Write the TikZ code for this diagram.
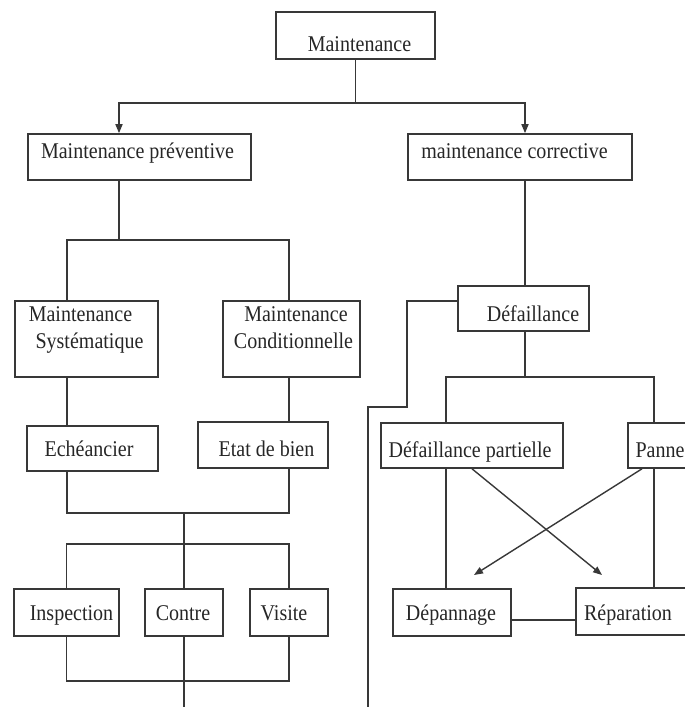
\documentclass[tikz,border=0pt]{standalone}
\usepackage{fontspec}
\setmainfont[FakeStretch=0.89]{Liberation Serif}
\usetikzlibrary{arrows.meta}
\begin{document}
\begin{tikzpicture}[x=1pt,y=-1pt,
  wire/.style={draw=black!78, line width=1.6pt},
  tip/.style={-{Triangle[length=9pt,width=7pt]}},
  box/.style={draw=black!78, line width=1.6pt, rectangle, inner sep=0pt},
  txt/.style={font=\fontsize{22.5pt}{27pt}\selectfont, text height=16pt,
              text depth=5pt, inner sep=0pt, text=black!85}]
\useasboundingbox (0,0) rectangle (685,707);
\clip (0,0) rectangle (685,707);

% ---- boxes ----
\node[box, minimum width=159pt, minimum height=47pt,
  label={[txt,xshift=4pt,yshift=-10pt]center:Maintenance}] (maint) at (355.5,35.5) {};
\node[box, minimum width=223pt, minimum height=46pt,
  label={[txt,xshift=-2pt,yshift=4pt]center:Maintenance préventive}] (prev) at (139.5,157) {};
\node[box, minimum width=224pt, minimum height=46pt,
  label={[txt,xshift=-5.5pt,yshift=4pt]center:maintenance corrective}] (corr) at (520,157) {};

\node[box, minimum width=143pt, minimum height=76pt,
  label={[txt,xshift=-6pt,yshift=22.8pt]center:Maintenance},
  label={[txt,xshift=3pt,yshift=-3.8pt]center:Systématique}] (ms) at (86.5,339) {};
\node[box, minimum width=137pt, minimum height=76pt,
  label={[txt,xshift=4.5pt,yshift=22.8pt]center:Maintenance},
  label={[txt,xshift=2pt,yshift=-3.8pt]center:Conditionnelle}] (mc) at (291.5,339) {};

\node[box, minimum width=131pt, minimum height=45pt,
  label={[txt,xshift=-3.5pt,yshift=-2.7pt]center:Echéancier}] (ech) at (92.5,448.5) {};
\node[box, minimum width=130pt, minimum height=46pt,
  label={[txt,xshift=3.5pt,yshift=-6.2pt]center:Etat de bien}] (etat) at (263,445) {};

\node[box, minimum width=105pt, minimum height=47pt,
  label={[txt,xshift=5pt,yshift=-2pt]center:Inspection}] (insp) at (66.5,612.5) {};
\node[box, minimum width=78pt, minimum height=47pt,
  label={[txt,xshift=-1pt,yshift=-2pt]center:Contre}] (contre) at (184,612.5) {};
\node[box, minimum width=78pt, minimum height=47pt,
  label={[txt,xshift=-5pt,yshift=-2pt]center:Visite}] (visite) at (289,612.5) {};

\node[box, minimum width=131pt, minimum height=45pt,
  label={[txt,xshift=9.5pt,yshift=-7.7pt]center:Défaillance}] (def) at (523.5,308.5) {};
\node[box, minimum width=182pt, minimum height=45pt,
  label={[txt,xshift=-2pt,yshift=-6.3pt]center:Défaillance partielle}] (dp) at (472,445.5) {};
\node[box, minimum width=72pt, minimum height=45pt,
  label={[txt,xshift=-4pt,yshift=-6.3pt]center:Panne}] (panne) at (664,445.5) {};
\node[box, minimum width=118pt, minimum height=47pt,
  label={[txt,xshift=-1pt,yshift=-2pt]center:Dépannage}] (dep) at (452,612.5) {};
\node[box, minimum width=124pt, minimum height=47pt,
  label={[txt,xshift=-10pt,yshift=-3pt]center:Réparation}] (rep) at (638,611.5) {};

% ---- column positions ----
\coordinate (xPv) at (119,0);
\coordinate (xC)  at (525,0);
\coordinate (cL)  at (67,0);
\coordinate (cR)  at (289,0);
\coordinate (xDP) at (446,0);
\coordinate (xPN) at (654,0);
\coordinate (xA1) at (472,0);
\coordinate (xA2) at (642,0);
\coordinate (yLink) at (0,620);

% ---- top split ----
\coordinate (busTop) at (355.5,103);
\draw[wire] (maint.south) -- (busTop);
\draw[wire,tip] (busTop) -| (prev.north -| xPv);
\draw[wire,tip] (busTop) -| (corr.north -| xC);

% ---- preventive branch ----
\coordinate (pvBus) at (119,240);
\draw[wire] (prev.south -| pvBus) -- (pvBus);
\draw[wire] (ms.north -| cL) |- (pvBus) -| (mc.north -| cR);
\draw[wire] (ms.south -| cL) -- (ech.north -| cL);
\draw[wire] (mc.south -| cR) -- (etat.north -| cR);
\coordinate (joinA) at (184,513);
\draw[wire] (ech.south -| cL) |- (joinA) -| (etat.south -| cR);
\draw[wire] (joinA) -- (contre.north);
\coordinate (splitA) at (184,544);
\draw[wire] (insp.north) |- (splitA) -| (visite.north);
\coordinate (joinB) at (184,681);
\draw[wire] (insp.south) |- (joinB) -| (visite.south);
\coordinate (outA) at (184,712);
\draw[wire] (contre.south) -- (outA);

% ---- corrective branch ----
\draw[wire] (corr.south -| xC) -- (def.north -| xC);
\coordinate (loopA) at (407,301);
\coordinate (loopB) at (368,407);
\coordinate (outB) at (368,712);
\draw[wire] (def.west |- loopA) -- (loopA) |- (loopB) -- (outB);
\coordinate (dfBus) at (525,377);
\draw[wire] (def.south -| dfBus) -- (dfBus);
\draw[wire] (dp.north -| xDP) |- (dfBus) -| (panne.north -| xPN);
\draw[wire] (dp.south -| xDP) -- (dep.north -| xDP);
\draw[wire] (panne.south -| xPN) -- (rep.north -| xPN);
\draw[wire] (dep.east |- yLink) -- (rep.west |- yLink);

% ---- crossing arrows ----
\coordinate (tA1) at (602,575);
\coordinate (tA2) at (474,575);
\draw[wire,line width=1.4pt,tip] (dp.south -| xA1) -- (tA1);
\draw[wire,line width=1.4pt,tip] (panne.south -| xA2) -- (tA2);
\end{tikzpicture}
\end{document}
